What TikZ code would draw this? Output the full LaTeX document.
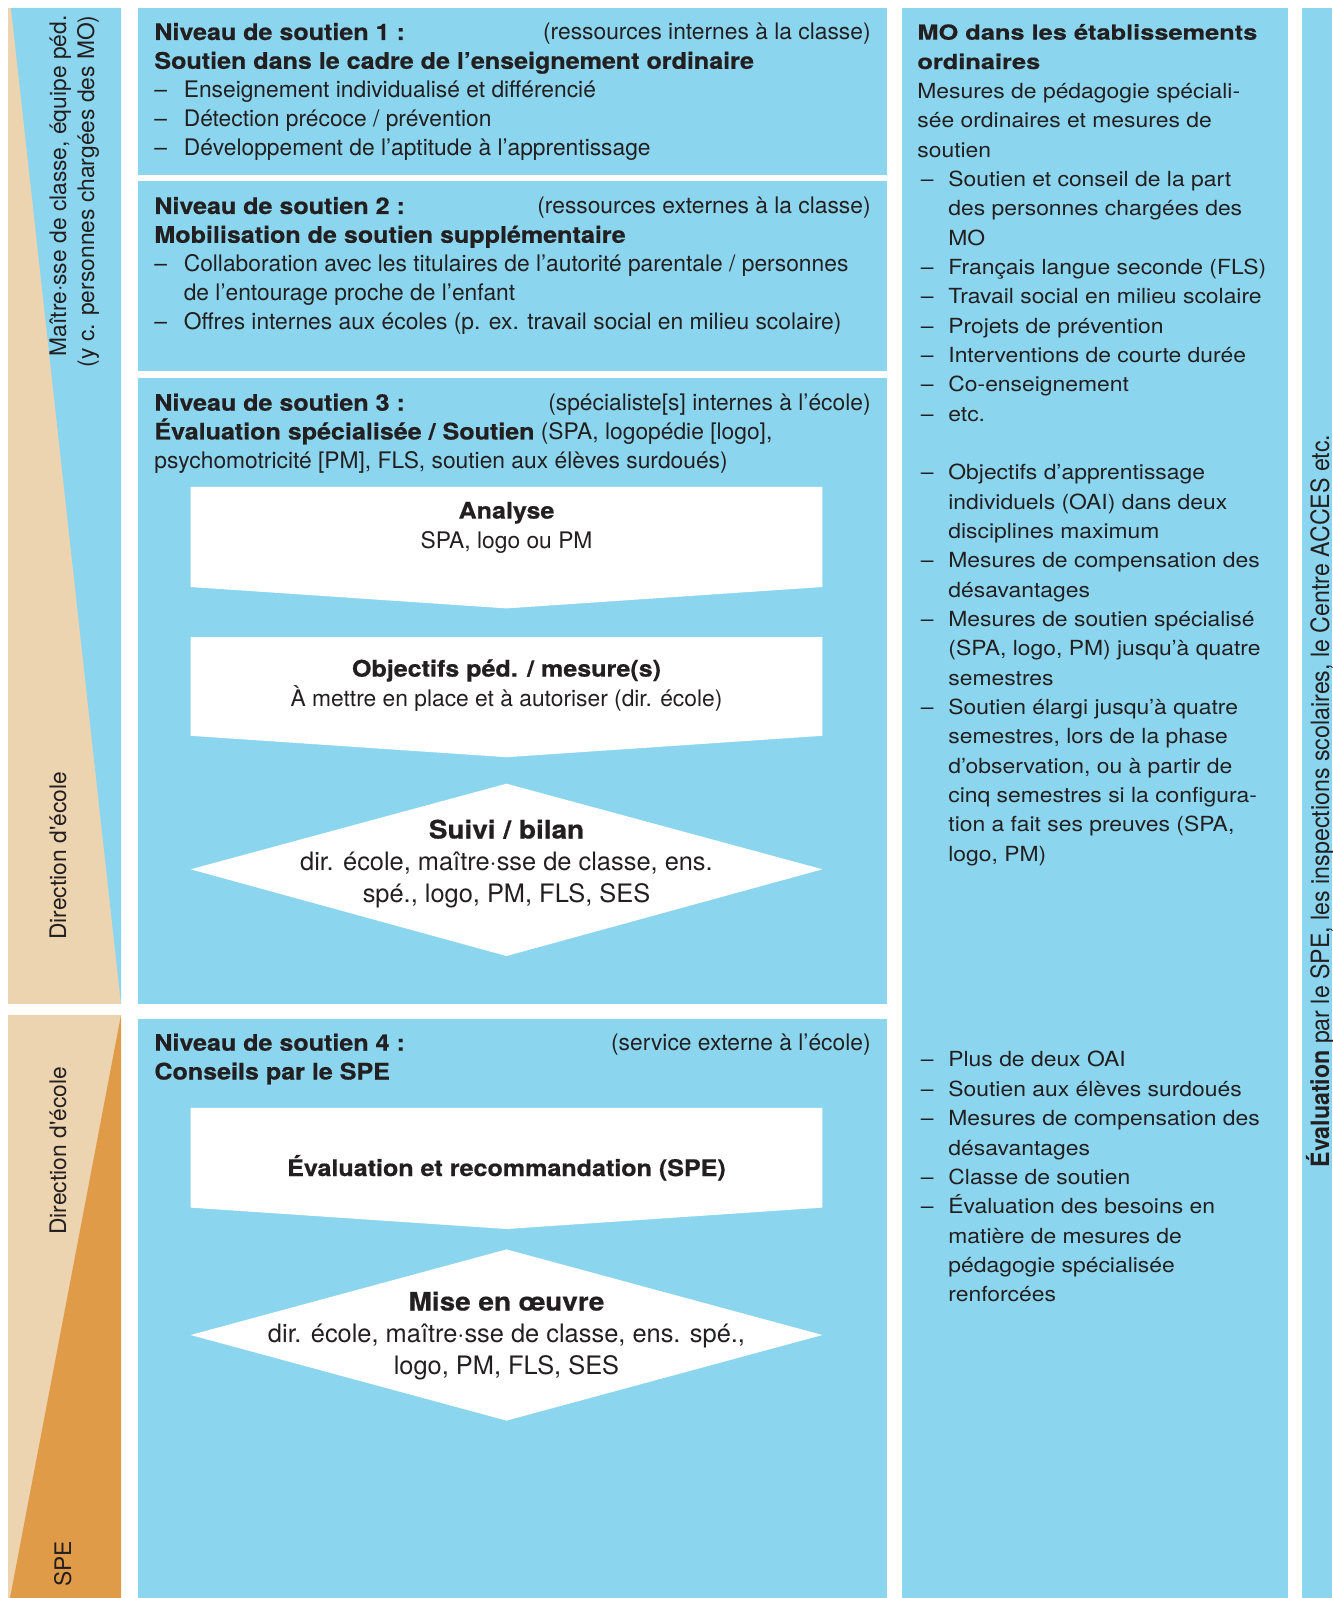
\documentclass[tikz,border=0pt]{standalone}
\usepackage{fontspec}
\setmainfont{TeX Gyre Heros}[BoldFeatures={FakeStretch=1.1, FakeBold=0.6}]
\newfontfamily\widefont{TeX Gyre Heros}[FakeStretch=1.1, BoldFeatures={FakeStretch=1.22, FakeBold=0.6}]
\newfontfamily\narrowfont{TeX Gyre Heros}[FakeStretch=0.92]
\usepackage{xcolor}
\usepackage{tikz}

\definecolor{skyblue}{RGB}{139,214,238}
\definecolor{sand}{RGB}{236,212,177}
\definecolor{ochre}{RGB}{224,155,73}
\definecolor{ink}{RGB}{35,31,32}

\newcommand{\lvlitem}{\makebox[14.7pt][l]{–}}
\newcommand{\lvlind}{\hspace*{14.7pt}}
\newcommand{\moitem}{\makebox[15.5pt][l]{\,–}}
\newcommand{\moind}{\hspace*{15.5pt}}

\begin{document}
\begin{tikzpicture}[x=0.5pt, y=-0.5pt,
    every node/.style={inner sep=0pt, text=ink},
    body/.style={font=\fontsize{11.4}{14.4}\selectfont, align=left, anchor=base west},
    note/.style={font=\fontsize{11.4}{14.4}\selectfont, anchor=base east},
    boxtext/.style={font=\fontsize{11.4}{14.7}\selectfont, align=center, anchor=base},
    bigtext/.style={font=\fontsize{12.7}{16}\selectfont, align=center, anchor=base},
    sidetext/.style={font=\fontsize{11.4}{14}\selectfont, rotate=90},
    motext/.style={font=\widefont\fontsize{10.4}{14.67}\selectfont, align=left, anchor=base west}]
\useasboundingbox (0,0) rectangle (1332,1598);

            % Left column - roles (base = last line)
            \fill[sand] (8,8) rectangle (121,1004);
            \fill[skyblue] (11,8) -- (121,8) -- (121,1004) -- cycle;
            \fill[sand] (8,1015) rectangle (121,1598);
            \fill[ochre] (121,1015) -- (121,1598) -- (10,1598) -- cycle;
            \node[sidetext, anchor=base east, align=right] (roleteach) at (94,15)
                {Maître·sse de classe, équipe péd.\\(y c. personnes chargées des MO)};
            \node[sidetext, anchor=base west] (roledir) at (66,940) {Direction d\textquotesingle école};
            \node[sidetext, anchor=base west] (roledirb) at (66,1235) {Direction d\textquotesingle école};
            \node[sidetext, anchor=base west] (rolespe) at (71,1587) {SPE};

            % Middle column - levels of support
            \fill[skyblue] (138,8) rectangle (887,175);
            \fill[skyblue] (138,181) rectangle (887,371);
            \fill[skyblue] (138,378) rectangle (887,1004);
            \fill[skyblue] (138,1019) rectangle (887,1598);

            \node[body] (lvlone) at (154,155.2)
                {\textbf{Niveau de soutien 1 :}\\
                 \textbf{Soutien dans le cadre de l’enseignement ordinaire}\\
                 \lvlitem Enseignement individualisé et différencié\\
                 \lvlitem Détection précoce / prévention\\
                 \lvlitem Développement de l’aptitude à l’apprentissage};
            \node[note] (lvlonenote) at (871,40) {(ressources internes à la classe)};

            \node[body] (lvltwo) at (154,329.2)
                {\textbf{Niveau de soutien 2 :}\\
                 \textbf{Mobilisation de soutien supplémentaire}\\
                 \lvlitem Collaboration avec les titulaires de l’autorité parentale / personnes\\
                 \lvlind de l’entourage proche de l’enfant\\
                 \lvlitem Offres internes aux écoles (p. ex. travail social en milieu scolaire)};
            \node[note] (lvltwonote) at (871,214) {(ressources externes à la classe)};

            \node[body] (lvlthree) at (154,468.3)
                {\textbf{Niveau de soutien 3 :}\\
                 \textbf{Évaluation spécialisée / Soutien} (SPA, logopédie [logo],\\
                 psychomotricité [PM], FLS, soutien aux élèves surdoués)};
            \node[note] (lvlthreenote) at (871,410.7) {(spécialiste[s] internes à l’école)};

            \node[body] (lvlfour) at (154,1079.5)
                {\textbf{Niveau de soutien 4 :}\\
                 \textbf{Conseils par le SPE}};
            \node[note] (lvlfournote) at (871,1050.7) {(service externe à l’école)};

            % Flow steps - level 3
            \fill[white] (190.6,487) -- (822.4,487) -- (822.4,587) -- (506.5,608.4) -- (190.6,587) -- cycle;
            \node[boxtext] (analyse) at (506.5,548) {\textbf{Analyse}\\SPA, logo ou PM};
            \fill[white] (190.6,637) -- (822.4,637) -- (822.4,735.8) -- (506.5,757.2) -- (190.6,735.8) -- cycle;
            \node[boxtext] (objectifs) at (506.5,706) {\textbf{Objectifs péd. / mesure(s)}\\À mettre en place et à autoriser (dir. école)};
            \fill[white] (506.5,783.7) -- (822.4,869.3) -- (506.5,956) -- (190.6,869.3) -- cycle;
            \node[bigtext] (suivi) at (506.5,902.5) {\textbf{Suivi / bilan}\\dir. école, maître·sse de classe, ens.\\spé., logo, PM, FLS, SES};

            % Flow steps - level 4
            \fill[white] (190.6,1107.8) -- (822.4,1107.8) -- (822.4,1207.6) -- (506.5,1229) -- (190.6,1207.6) -- cycle;
            \node[boxtext] (evalspe) at (506.5,1176) {\textbf{Évaluation et recommandation (SPE)}};
            \fill[white] (506.5,1249.4) -- (822.4,1335) -- (506.5,1420.6) -- (190.6,1335) -- cycle;
            \node[bigtext] (miseoeuvre) at (506.5,1374.5) {\textbf{Mise en œuvre}\\dir. école, maître·sse de classe, ens. spé.,\\logo, PM, FLS, SES};

            % Right column - measures
            \fill[skyblue] (902,8) rectangle (1288,1598);
            \node[motext] (moheader) at (917,421.1)
                {\textbf{MO dans les établissements}\\
                 \textbf{ordinaires}\\
                 Mesures de pédagogie spéciali-\\
                 sée ordinaires et mesures de\\
                 soutien\\
                 \moitem Soutien et conseil de la part\\
                 \moind des personnes chargées des\\
                 \moind MO\\
                 \moitem Français langue seconde (FLS)\\
                 \moitem Travail social en milieu scolaire\\
                 \moitem Projets de prévention\\
                 \moitem Interventions de courte durée\\
                 \moitem Co-enseignement\\
                 \moitem etc.};
            \node[motext] (momiddle) at (917,861.2)
                {\moitem Objectifs d’apprentissage\\
                 \moind individuels (OAI) dans deux\\
                 \moind disciplines maximum\\
                 \moitem Mesures de compensation des\\
                 \moind désavantages\\
                 \moitem Mesures de soutien spécialisé\\
                 \moind (SPA, logo, PM) jusqu’à quatre\\
                 \moind semestres\\
                 \moitem Soutien élargi jusqu’à quatre\\
                 \moind semestres, lors de la phase\\
                 \moind d’observation, ou à partir de\\
                 \moind cinq semestres si la configura-\\
                 \moind tion a fait ses preuves (SPA,\\
                 \moind logo, PM)};
            \node[motext] (molower) at (917,1301.7)
                {\moitem Plus de deux OAI\\
                 \moitem Soutien aux élèves surdoués\\
                 \moitem Mesures de compensation des\\
                 \moind désavantages\\
                 \moitem Classe de soutien\\
                 \moitem Évaluation des besoins en\\
                 \moind matière de mesures de\\
                 \moind pédagogie spécialisée\\
                 \moind renforcées};

            % Far right strip - evaluation
            \fill[skyblue] (1302,8) rectangle (1332,1598);
            \node[sidetext, font=\narrowfont\fontsize{12.6}{14}\selectfont, anchor=base] (evalstrip) at (1329,801)
                {\textbf{Évaluation} par le SPE, les inspections scolaires, le Centre ACCES etc.};
        \end{tikzpicture}
\end{document}
